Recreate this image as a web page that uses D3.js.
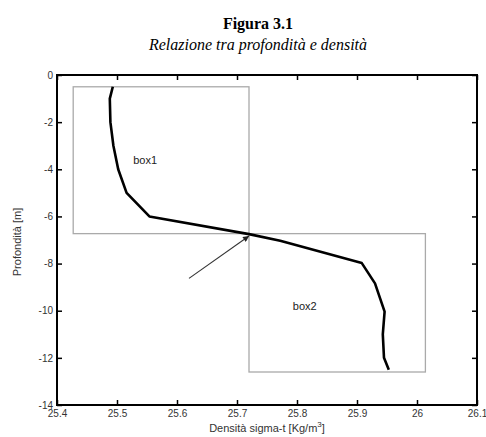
<!DOCTYPE html>
<html>
<head>
<meta charset="utf-8">
<script src="https://cdn.jsdelivr.net/npm/d3@7"></script>
<style>
  body { margin: 0; background: #fff; }
  svg { display: block; }
</style>
</head>
<body>
<svg width="486" height="437"></svg>
<script>
// profile
var density = [25.493, 25.488, 25.489, 25.494, 25.502, 25.516, 25.554, 25.72, 25.772, 25.908, 25.93, 25.946, 25.943, 25.945, 25.953];
var depth = [-0.5, -1, -2, -3, -4, -5, -6, -6.75, -7.03, -7.98, -8.84, -10.04, -11, -12, -12.5];

var xTicks = [25.4, 25.5, 25.6, 25.7, 25.8, 25.9, 26, 26.1];
var yTicks = [0, -2, -4, -6, -8, -10, -12, -14];

// boxes: [x0, x1, y0, y1]
var boxNames = ['box1', 'box2'];
var boxX = [[25.427, 25.72], [25.72, 26.014]];
var boxY = [[-0.5, -6.73], [-6.73, -12.6]];
var boxLabelAt = [[25.527, -3.78], [25.793, -9.95]];

var arrowFrom = [25.62, -8.63];
var arrowTo = [25.72, -6.83];

// plot edges (note: "top" is taken by window.top)
var pLeft = 57, pRight = 477, pTop = 75, pBottom = 405;

var svg = d3.select('svg');

var x = d3.scaleLinear().domain([25.4, 26.1]).range([pLeft, pRight]);
var y = d3.scaleLinear().domain([0, -14]).range([pTop, pBottom]);

// title
svg.append('text')
  .attr('x', 258).attr('y', 29)
  .attr('text-anchor', 'middle')
  .style('font-family', '"Liberation Serif", "Times New Roman", serif')
  .style('font-weight', 'bold')
  .style('font-size', '16px')
  .text('Figura 3.1');

svg.append('text')
  .attr('x', 258).attr('y', 50)
  .attr('text-anchor', 'middle')
  .style('font-family', '"Liberation Serif", "Times New Roman", serif')
  .style('font-style', 'italic')
  .style('font-size', '16px')
  .text('Relazione tra profondità e densità');

// boxes
boxNames.forEach(function(name, i) {
  svg.append('rect')
    .attr('x', x(boxX[i][0]))
    .attr('y', y(boxY[i][0]))
    .attr('width', x(boxX[i][1]) - x(boxX[i][0]))
    .attr('height', y(boxY[i][1]) - y(boxY[i][0]))
    .attr('fill', 'none')
    .attr('stroke', '#aaa')
    .attr('stroke-width', 1.3);
  svg.append('text')
    .attr('x', x(boxLabelAt[i][0]))
    .attr('y', y(boxLabelAt[i][1]))
    .style('font-family', '"Liberation Sans", Arial, sans-serif')
    .style('font-size', '11px')
    .attr('fill', '#222')
    .text(name);
});

// axes, ticks pointing in
var fmt = function(d) { return String(d); };
var axisFont = function(g) {
  g.selectAll('text')
    .style('font-family', '"Liberation Sans", Arial, sans-serif')
    .style('font-size', '10px')
    .attr('fill', '#333');
  g.select('.domain').remove();
  g.selectAll('line').attr('stroke', '#000').attr('stroke-width', 1.5);
};

svg.append('g')
  .attr('transform', 'translate(0,' + pBottom + ')')
  .call(d3.axisBottom(x).tickValues(xTicks).tickFormat(fmt).tickSizeInner(-5).tickSizeOuter(0).tickPadding(5))
  .call(axisFont);

svg.append('g')
  .attr('transform', 'translate(' + pLeft + ',0)')
  .call(d3.axisLeft(y).tickValues(yTicks).tickFormat(fmt).tickSizeInner(-5).tickSizeOuter(0).tickPadding(4))
  .call(axisFont);

svg.append('g')
  .attr('transform', 'translate(0,' + pTop + ')')
  .call(d3.axisTop(x).tickValues(xTicks).tickFormat('').tickSizeInner(-5).tickSizeOuter(0))
  .call(axisFont);

svg.append('g')
  .attr('transform', 'translate(' + pRight + ',0)')
  .call(d3.axisRight(y).tickValues(yTicks).tickFormat('').tickSizeInner(-5).tickSizeOuter(0))
  .call(axisFont);

// frame
svg.append('rect')
  .attr('x', pLeft).attr('y', pTop)
  .attr('width', pRight - pLeft).attr('height', pBottom - pTop)
  .attr('fill', 'none')
  .attr('stroke', '#000')
  .attr('stroke-width', 2);

// profile line
var line = d3.line()
  .x(function(d, i) { return x(density[i]); })
  .y(function(d, i) { return y(depth[i]); });

svg.append('path')
  .datum(depth)
  .attr('d', line)
  .attr('fill', 'none')
  .attr('stroke', '#000')
  .attr('stroke-width', 2.6)
  .attr('stroke-linejoin', 'round');

// arrow
svg.append('defs').append('marker')
  .attr('id', 'head')
  .attr('viewBox', '0 0 10 10')
  .attr('refX', 10).attr('refY', 5)
  .attr('markerWidth', 7).attr('markerHeight', 6)
  .attr('markerUnits', 'userSpaceOnUse')
  .attr('orient', 'auto')
  .append('path')
  .attr('d', 'M0,0L10,5L0,10z')
  .attr('fill', '#222');

svg.append('line')
  .attr('x1', x(arrowFrom[0])).attr('y1', y(arrowFrom[1]))
  .attr('x2', x(arrowTo[0])).attr('y2', y(arrowTo[1]))
  .attr('stroke', '#333')
  .attr('stroke-width', 1.1)
  .attr('marker-end', 'url(#head)');

// axis labels
var xl = svg.append('text')
  .attr('x', 267).attr('y', 432)
  .attr('text-anchor', 'middle')
  .style('font-family', '"Liberation Sans", Arial, sans-serif')
  .style('font-size', '11px')
  .attr('fill', '#333');
xl.append('tspan').text('Densità sigma-t [Kg/m');
xl.append('tspan').attr('dy', -5).style('font-size', '8px').text('3');
xl.append('tspan').attr('dy', 5).text(']');

svg.append('text')
  .attr('transform', 'translate(21,242) rotate(-90)')
  .attr('text-anchor', 'middle')
  .style('font-family', '"Liberation Sans", Arial, sans-serif')
  .style('font-size', '11px')
  .attr('fill', '#333')
  .text('Profondità [m]');
</script>
</body>
</html>
